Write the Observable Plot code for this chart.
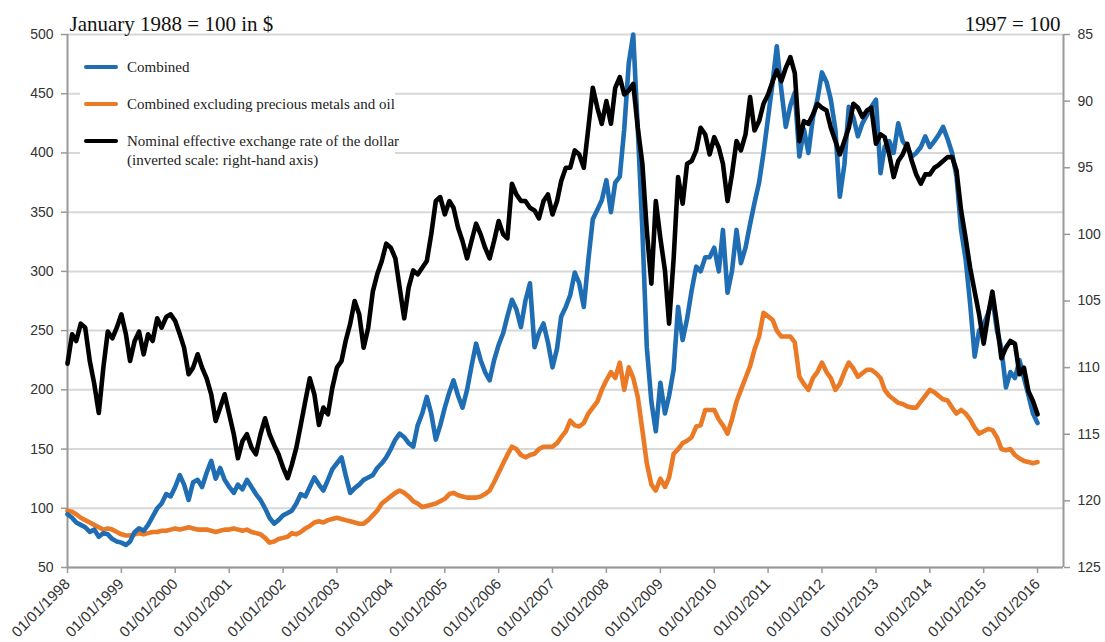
<!DOCTYPE html>
<html><head><meta charset="utf-8">
<script src="https://cdn.jsdelivr.net/npm/d3@7"></script>
<script src="https://cdn.jsdelivr.net/npm/@observablehq/plot@0.6"></script>
<style>
body{margin:0;background:#fff;}
#wrap{position:relative;width:1105px;height:642px;overflow:hidden;}
#legend{position:absolute;left:80px;top:47px;width:315px;height:141px;background:#fff;font-family:"Liberation Serif","Times New Roman",serif;font-size:15px;color:#222;}
.sw{position:absolute;left:4px;width:34px;height:4px;border-radius:2px;}
.lbl{position:absolute;left:47px;line-height:19px;white-space:nowrap;}
</style></head>
<body><div id="wrap"><div id="chart"></div><div id="legend"></div></div>
<script>
// Monthly values, January 1998 .. January 2016
const combined = [
  95, 92, 88, 86, 84, 80, 82, 76, 79, 78, 74, 72,
  71, 69, 72, 80, 83, 81, 86, 93, 100, 104, 112, 110,
  118, 128, 120, 107, 122, 124, 118, 130, 140, 125, 134, 124,
  118, 113, 120, 116, 124, 118, 112, 107, 100, 92, 87, 90,
  94, 96, 98, 104, 112, 110, 118, 126, 120, 115, 124, 133,
  138, 143, 128, 113, 117, 120, 124, 126, 128, 134, 138, 143,
  150, 158, 163, 160, 155, 152, 170, 180, 194, 180, 158, 170,
  185, 198, 208, 195, 185, 200, 220, 239, 225, 215, 208, 225,
  238, 248, 262, 276, 268, 253, 275, 290, 236, 248, 256, 240,
  219, 235, 262, 270, 280, 299, 290, 270, 310, 344, 352, 360,
  377, 350, 375, 380, 420, 476, 500, 420, 335, 236, 190, 165,
  206, 180, 195, 217, 270, 242, 260, 284, 304, 300, 312, 312,
  320, 300, 335, 282, 300, 335, 307, 320, 340, 358, 375, 400,
  430, 460, 490, 453, 422, 440, 451, 397, 420, 400, 430, 445,
  468, 460, 445, 420, 363, 390, 439, 430, 414, 425, 432, 439,
  445, 383, 405, 410, 400, 425, 410, 405, 397, 400, 405, 414,
  405, 410, 415, 422, 412, 400, 380, 335, 310, 273, 228, 250,
  255, 265, 278, 250, 235, 202, 215, 210, 225, 210, 195, 180,
  172
];
const exPreciousMetalsOil = [
  98, 97, 95, 92, 90, 88, 86, 84, 82, 83, 82, 80,
  78, 77, 77, 78, 79, 78, 79, 80, 80, 81, 81, 82,
  83, 82, 83, 84, 83, 82, 82, 82, 81, 80, 81, 82,
  82, 83, 82, 81, 82, 80, 79, 78, 75, 71, 72, 74,
  75, 76, 79, 78, 80, 83, 85, 88, 89, 88, 90, 91,
  92, 91, 90, 89, 88, 87, 87, 90, 94, 98, 104, 107,
  110, 113, 115, 113, 110, 106, 104, 101, 102, 103, 104, 106,
  108, 112, 113, 111, 110, 109, 109, 109, 110, 112, 115, 122,
  130, 138, 145, 152, 150, 145, 143, 145, 146, 150, 152, 152,
  152, 155, 160, 165, 174, 170, 169, 172, 180, 185, 190, 200,
  208, 215, 210, 223, 200, 219, 210, 194, 166, 138, 120, 115,
  125, 118, 126, 146, 150, 155, 157, 160, 169, 170, 183, 183,
  183, 175, 170, 163, 175, 190, 200, 210, 220, 234, 245, 265,
  262, 259, 250, 245, 245, 245, 240, 211, 205, 200, 210, 215,
  223, 215, 210, 200, 205, 215, 223, 218, 211, 214, 217, 217,
  214, 210, 200, 195, 192, 189, 188, 186, 185, 185, 190, 195,
  200, 198, 195, 192, 191, 185, 180, 183, 180, 175, 168, 163,
  165, 167, 166, 160, 150, 149, 150, 145, 142, 140, 139, 138,
  139
];
// Nominal effective exchange rate of the dollar, 1997 = 100 (right-hand, inverted axis)
const dollarRate = [
  109.7, 107.5, 108, 106.7, 107, 109.5, 111.2, 113.4, 110, 107.3, 107.8, 107,
  106, 107.5, 109.5, 108, 107.3, 109, 107.5, 108, 106.3, 107, 106.2, 106,
  106.5, 107.5, 108.5, 110.5, 110, 109, 110, 110.8, 112, 114, 113, 112,
  113.5, 115, 116.8, 115.5, 115, 116, 116.5, 115, 113.8, 115, 115.8, 116.5,
  117.5, 118.3, 117.3, 116, 114.3, 112.5, 110.8, 112, 114.3, 113, 113.5, 111.5,
  110, 109.5, 108, 106.7, 105, 106, 108.5, 107, 104.3, 103, 102, 100.7,
  101, 101.8, 104, 106.3, 104, 102.7, 103, 102.5, 102, 100, 97.5, 97.2,
  98.5, 97.5, 98, 99.5, 100.5, 101.8, 100.5, 99.2, 100, 101, 101.8, 100.5,
  99, 100, 100.3, 96.2, 97, 97.5, 97.5, 98, 98.2, 98.8, 97.5, 97,
  98.5, 97.5, 96, 95, 95, 93.7, 94, 95, 92, 89, 90.5, 91.7,
  90, 91.7, 89, 88.2, 89.5, 89.2, 88.7, 92, 94.7, 99.7, 103.7, 97.5,
  100.3, 102.7, 106.7, 101.8, 95.7, 97.7, 94.7, 94.5, 93.7, 92, 92.5, 94,
  92.7, 93.5, 94.7, 97.5, 95.5, 93, 93.7, 92.5, 89.7, 92.2, 91.5, 90.2,
  89.5, 88.5, 87.7, 88.5, 87.5, 86.7, 87.9, 93, 91.5, 91.7, 91, 90.2,
  90.5, 90.7, 92, 93, 94, 93, 92, 90.2, 90.5, 91.2, 90.7, 90.5,
  93.2, 92.5, 92.7, 94, 95.7, 94.5, 94, 93.2, 94.5, 95.5, 96.2, 95.5,
  95.5, 95, 94.8, 94.5, 94.2, 94.2, 95.2, 98.2, 100.3, 102.5, 104.3, 106,
  108.2, 106, 104.3, 106.7, 109.3, 108.5, 108, 108.2, 110.5, 110, 111.8, 112.5,
  113.5
];
const leftTicks = [50, 100, 150, 200, 250, 300, 350, 400, 450, 500];
const rightTicks = [85, 90, 95, 100, 105, 110, 115, 120, 125];
const yearTicks = d3.range(1998, 2017).map(y => new Date(Date.UTC(y, 0, 1)));
const seriesNames = ["Combined", "Combined excluding precious metals and oil", "Nominal effective exchange rate of the dollar"];
const seriesColors = ["#1f6db3", "#ea7a26", "#000000"];
const titleLeft = "January 1988 = 100 in $";
const titleRight = "1997 = 100";

const months = d3.range(combined.length).map(i => new Date(Date.UTC(1998, i, 1)));
const xDomain = [new Date(Date.UTC(1998, 0, 1)), new Date(Date.UTC(2016, 5, 25))];
// map right-hand (inverted) scale onto the left-hand scale
const toLeft = r => 50 + (125 - r) * 450 / 40;
const fromLeft = v => 125 - (v - 50) * 40 / 450;

const rowsBlue = combined.map((v, i) => ({date: months[i], value: v}));
const rowsOrange = exPreciousMetalsOil.map((v, i) => ({date: months[i], value: v}));
const rowsBlack = dollarRate.map((v, i) => ({date: months[i], value: toLeft(v)}));

const axisStyle = {tickSize: 6, tickPadding: 8, stroke: "#999", strokeWidth: 1.5, fill: "#333", label: null};
const lineStyle = {x: "date", y: "value", strokeWidth: 4.6, strokeLinejoin: "round", strokeLinecap: "round"};

const plot = Plot.plot({
  width: 1105, height: 642,
  marginLeft: 67, marginRight: 42, marginTop: 34, marginBottom: 75,
  style: {fontFamily: "'Liberation Sans', Arial, Helvetica, sans-serif", background: "#fff", overflow: "visible"},
  x: {type: "utc", domain: xDomain},
  y: {domain: [50, 500]},
  marks: [
    Plot.gridY(leftTicks, {stroke: "#d8d8d8", strokeOpacity: 1, strokeWidth: 2}),
    Plot.axisY(leftTicks, {anchor: "left", fontSize: 14, ...axisStyle}),
    Plot.axisY(rightTicks.map(toLeft), {anchor: "right", fontSize: 14, tickFormat: v => String(Math.round(fromLeft(v))), ...axisStyle}),
    Plot.axisX(yearTicks, {anchor: "bottom", fontSize: 15, tickRotate: -45, tickFormat: d3.utcFormat("%d/%m/%Y"), ...axisStyle}),
    Plot.ruleX([xDomain[0]], {stroke: "#999", strokeWidth: 2}),
    Plot.ruleX([xDomain[1]], {stroke: "#999", strokeWidth: 2}),
    Plot.ruleY([50], {stroke: "#999", strokeWidth: 2}),
    Plot.line(rowsOrange, {...lineStyle, stroke: seriesColors[1]}),
    Plot.line(rowsBlue, {...lineStyle, stroke: seriesColors[0]}),
    Plot.line(rowsBlack, {...lineStyle, stroke: seriesColors[2]}),
    Plot.text([titleLeft], {text: d => d, frameAnchor: "top-left", textAnchor: "start", lineAnchor: "bottom", dx: 2, dy: -4, fontSize: 21, fontFamily: "'Liberation Serif', 'Times New Roman', serif", fill: "#111"}),
    Plot.text([titleRight], {text: d => d, frameAnchor: "top-right", textAnchor: "end", lineAnchor: "bottom", dx: -3, dy: -4, fontSize: 21, fontFamily: "'Liberation Serif', 'Times New Roman', serif", fill: "#111"})
  ]
});
document.getElementById("chart").appendChild(plot);

// legend (overlay box inside the plot area)
const legend = document.getElementById("legend");
const legendLines = [[seriesNames[0]], [seriesNames[1]], [seriesNames[2], "(inverted scale: right-hand axis)"]];
legendLines.forEach((lines, i) => {
  const cy = 20 + i * 37;
  const sw = document.createElement("div");
  sw.className = "sw";
  sw.style.top = (cy - 2) + "px";
  sw.style.background = seriesColors[i];
  legend.appendChild(sw);
  const lb = document.createElement("div");
  lb.className = "lbl";
  lb.style.top = (cy - 9.5) + "px";
  lb.innerHTML = lines.join("<br>");
  legend.appendChild(lb);
});
</script>
</body></html>
